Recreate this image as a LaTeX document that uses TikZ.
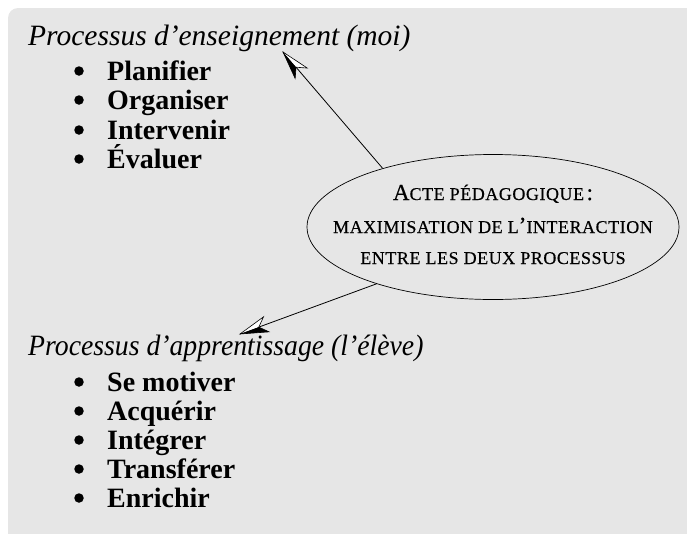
\documentclass[tikz,border=0pt]{standalone}
\usepackage{fontspec}
\setmainfont{Liberation Serif}
\newfontfamily\scfont[LetterSpace=3,FakeBold=0.4]{Liberation Serif}
\usetikzlibrary{shapes.geometric,decorations.markings}
\definecolor{bgc}{HTML}{E6E6E6}
\newcommand\smc[1]{{\fontsize{18}{18}\scfont #1}}
\newcommand\bigc[1]{{\fontsize{23}{23}\scfont #1}}
\tikzset{
  title/.style={anchor=base west, inner sep=0pt, font=\fontsize{29.5}{30}\selectfont\itshape},
  item/.style={anchor=base west, inner sep=0pt, font=\fontsize{28}{28}\selectfont\bfseries},
  dot/.style={circle, fill=black, inner sep=0pt, minimum size=9.5pt},
  etext/.style={anchor=base, inner sep=0pt},
  halfhead/.style={postaction={decorate, decoration={markings, mark=at position 1 with {
    \fill[white] (0pt,0pt) -- (-28pt,-8pt) -- (-20pt,0pt) -- cycle;
    \fill[black] (0pt,0pt) -- (-28pt,8pt) -- (-20pt,0pt) -- cycle;
    \draw[line width=0.6pt, line join=miter] (0pt,0pt) -- (-28pt,-8pt) -- (-20pt,0pt) -- (-28pt,8pt) -- cycle;
  }}}},
  conn/.style={line width=0.8pt, halfhead}
}
\begin{document}
\begin{tikzpicture}[x=1pt,y=-1pt]
\useasboundingbox (0,0) rectangle (687,533);
\clip (0,0) rectangle (687,533);
\fill[bgc, rounded corners=10pt] (8,8) rectangle (710,560);

\node[title] (t1) at (28,45) {Processus d’enseignement (moi)};
\foreach \y/\t [count=\k] in {80/Planifier,109/Organiser,139/Intervenir,168/Évaluer}{
  \node[dot] (bi\k) at (79,\y-9) {};
  \node[item] (i\k) at (107,\y) {\t};
}

\node[title] (t2) at (28,355) {\scalebox{0.94}[1]{Processus d’apprentissage (l’élève)}};
\foreach \y/\t [count=\k] in {391/Se motiver,420/Acquérir,449/Intégrer,478/Transférer,507/Enrichir}{
  \node[dot] (bj\k) at (79,\y-9) {};
  \node[item] (j\k) at (107,\y) {\t};
}

\node[ellipse, draw, line width=0.7pt, minimum width=372pt, minimum height=145pt, inner sep=0pt] (ell) at (493,227) {};
\node[etext] (e1) at (493,200) {\bigc{A}\smc{CTE PÉDAGOGIQUE} \bigc{:}};
\node[etext] (e2) at (493,233) {\smc{MAXIMISATION DE L}\bigc{’}\smc{INTERACTION}};
\node[etext] (e3) at (493,264) {\smc{ENTRE LES DEUX PROCESSUS}};

\coordinate (tipA) at (283,52);
\coordinate (tipB) at (240,334);
\draw[conn] (ell.152.8) -- (tipA);
\draw[conn] (ell.206) -- (tipB);
\end{tikzpicture}
\end{document}
